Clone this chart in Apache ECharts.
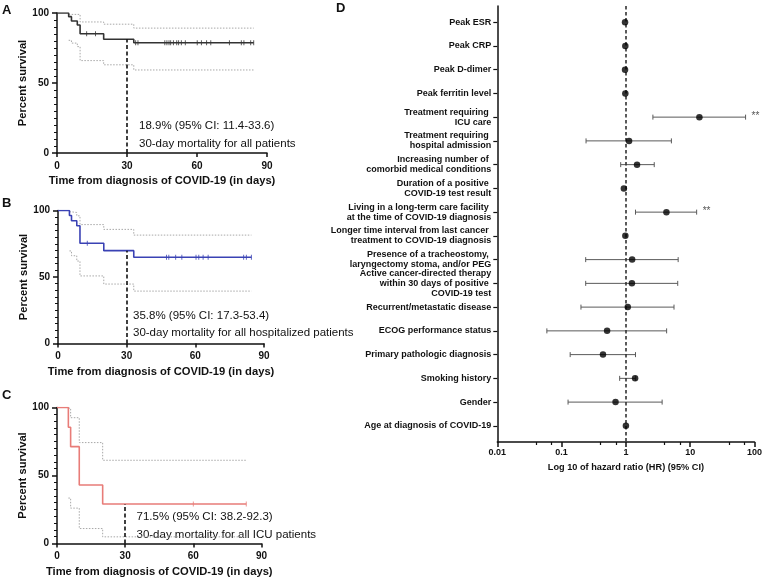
<!DOCTYPE html>
<html>
<head>
<meta charset="utf-8">
<script src="https://cdn.jsdelivr.net/npm/echarts@6/dist/echarts.min.js"></script>
<style>
html,body{margin:0;padding:0;background:#fff;}
#chart{width:765px;height:579px;}
</style>
</head>
<body>
<div id="chart"></div>
<script>
// ---------- Kaplan-Meier data (time in days, survival in %) ----------
const aTimes = [0, 5.0, 6.2, 8.7, 9.9, 20, 32.9, 84.3];
const aSurv  = [100, 97.4, 94.3, 91.4, 85.2, 81.2, 78.8, 78.8];
const aCiTimes = [5.0, 6.2, 8.7, 9.9, 20, 32.9, 84.3];
const aUpper = [99, 99, 99, 93.6, 92, 89.2, 89.2];
const aLower = [80.5, 78.5, 76, 66, 63, 59.3, 59.3];
const aCensor = [12.7, 16.5, 33.7, 34.7, 46.2, 47.1, 48.0, 48.7, 49.9, 51.3, 52.1, 53.3, 55.0, 60.1, 61.9, 64.1, 65.9, 73.9, 79.0, 80.1, 83.0, 84.3];

const bTimes = [0, 5.0, 5.9, 8.2, 9.6, 20, 33.1, 84.5];
const bSurv  = [100, 96.2, 92.3, 88.5, 75.4, 69.8, 64.8, 64.8];
const bCiTimes = [5.0, 5.9, 8.2, 9.6, 20, 33.1, 84.5];
const bUpper = [99, 98.5, 96, 89.4, 85.8, 81.5, 81.5];
const bLower = [69.6, 66, 62, 50.8, 44.7, 39.4, 39.4];
const bCensor = [12.8, 47.4, 48.4, 51.4, 54.1, 60.3, 61.5, 63.4, 65.6, 81.1, 82.3, 84.5];

const cTimes = [0, 5.0, 6.0, 9.8, 20.1, 83.3];
const cSurv  = [100, 85.5, 71.2, 43, 29, 29];
const cCiTimes = [5.0, 6.0, 9.8, 20.1, 83.3];
const cUpper = [99.5, 92.5, 74.2, 61.2, 61.2];
const cLower = [33.4, 26, 11, 4.9, 4.9];
const cCensor = [60, 83.3];

const kmXTicks = [0, 30, 60, 90];
const kmYTicks = [0, 50, 100];
const mortalityDay = 30;

const annA = ['18.9% (95% CI: 11.4-33.6)', '30-day mortality for all patients'];
const annB = ['35.8% (95% CI: 17.3-53.4)', '30-day mortality for all hospitalized patients'];
const annC = ['71.5% (95% CI: 38.2-92.3)', '30-day mortality for all ICU patients'];

// ---------- Forest plot data ----------
const factors = [
  'Peak ESR',
  'Peak CRP',
  'Peak D-dimer',
  'Peak ferritin level',
  'Treatment requiring \nICU care',
  'Treatment requiring \nhospital admission',
  'Increasing number of \ncomorbid medical conditions',
  'Duration of a positive \nCOVID-19 test result',
  'Living in a long-term care facility \nat the time of COVID-19 diagnosis',
  'Longer time interval from last cancer \ntreatment to COVID-19 diagnosis',
  'Presence of a tracheostomy, \nlaryngectomy stoma, and/or PEG',
  'Active cancer-directed therapy\nwithin 30 days of positive \nCOVID-19 test',
  'Recurrent/metastatic disease',
  'ECOG performance status',
  'Primary pathologic diagnosis',
  'Smoking history',
  'Gender',
  'Age at diagnosis of COVID-19'
];
const hr    = [0.97, 0.98, 0.97, 0.98, 13.9, 1.12, 1.49, 0.93, 4.27, 0.98, 1.25, 1.24, 1.07, 0.51, 0.44, 1.39, 0.69, 1.0];
const hrLow = [null, null, null, null, 2.63, 0.24, 0.83, null, 1.41, null, 0.237, 0.237, 0.20, 0.059, 0.136, 0.80, 0.126, null];
const hrHigh= [null, null, null, null, 72.7, 5.1, 2.76, null, 12.6, null, 6.5, 6.4, 5.6, 4.3, 1.41, 1.42, 3.66, null];
const sig   = ['', '', '', '', '**', '', '', '', '**', '', '', '', '', '', '', '', '', ''];
const hrTickLabels = ['0.01', '0.1', '1', '10', '100'];
const hrMinorTicks = [0.04, 0.07, 0.4, 0.7, 4, 7, 40, 70];

// ---------- helpers ----------
const FONT = 'Liberation Sans, Arial, sans-serif';
function stepValue(times, surv, t) {
  let v = surv[0];
  for (let i = 0; i < times.length; i++) { if (times[i] <= t) v = surv[i]; }
  return v;
}
function pairs(xs, ys) { return xs.map((x, i) => [x, ys[i]]); }

const kmGrids = [
  {left: 57, top: 13, width: 210, height: 140},
  {left: 58, top: 210.5, width: 206, height: 133},
  {left: 57, top: 407.5, width: 204.5, height: 136}
];
const kmPanels = [
  {t: aTimes, s: aSurv, ct: aCiTimes, up: aUpper, lo: aLower, cen: aCensor, color: '#333333'},
  {t: bTimes, s: bSurv, ct: bCiTimes, up: bUpper, lo: bLower, cen: bCensor, color: '#3a42b4'},
  {t: cTimes, s: cSurv, ct: cCiTimes, up: cUpper, lo: cLower, cen: cCensor, color: '#e87c78'}
];

const grids = [], xAxes = [], yAxes = [], series = [];
kmGrids.forEach((g, i) => {
  grids.push(Object.assign({containLabel: false}, g));
  xAxes.push({
    gridIndex: i, type: 'value', min: 0, max: 90, interval: 30,
    name: 'Time from diagnosis of COVID-19 (in days)', nameLocation: 'middle', nameGap: 22.5,
    nameTextStyle: {fontFamily: FONT, fontWeight: 'bold', fontSize: 11.2, color: '#111'},
    axisLine: {show: true, onZero: false, lineStyle: {color: '#111', width: 1.5}},
    axisTick: {show: true, length: 4, lineStyle: {color: '#111', width: 1.5}},
    axisLabel: {fontFamily: FONT, fontWeight: 'bold', fontSize: 10, color: '#111', margin: 8,
      formatter: v => kmXTicks.includes(v) ? String(v) : ''},
    splitLine: {show: false}
  });
  yAxes.push({
    gridIndex: i, type: 'value', min: 0, max: 100, interval: 50,
    name: 'Percent survival', nameLocation: 'middle', nameGap: 28,
    nameTextStyle: {fontFamily: FONT, fontWeight: 'bold', fontSize: 11.2, color: '#111'},
    axisLine: {show: true, onZero: false, lineStyle: {color: '#111', width: 1.5}},
    axisTick: {show: true, length: 5, lineStyle: {color: '#111', width: 1.5}},
    minorTick: {show: true, splitNumber: 10, length: 3, lineStyle: {color: '#111', width: 1}},
    axisLabel: {fontFamily: FONT, fontWeight: 'bold', fontSize: 10, color: '#111', margin: 8,
      formatter: v => kmYTicks.includes(v) ? String(v) : ''},
    splitLine: {show: false}
  });
  const p = kmPanels[i];
  const s30 = stepValue(p.t, p.s, mortalityDay);
  series.push({
    type: 'line', xAxisIndex: i, yAxisIndex: i, step: 'end', showSymbol: false, symbol: 'none',
    data: pairs(p.ct, p.up), lineStyle: {color: '#a8a8a8', width: 1, type: [1.5, 1.5]}, silent: true, z: 2
  });
  series.push({
    type: 'line', xAxisIndex: i, yAxisIndex: i, step: 'end', showSymbol: false, symbol: 'none',
    data: pairs(p.ct, p.lo), lineStyle: {color: '#a8a8a8', width: 1, type: [1.5, 1.5]}, silent: true, z: 2
  });
  series.push({
    type: 'line', xAxisIndex: i, yAxisIndex: i, step: 'end', showSymbol: false, symbol: 'none',
    data: pairs(p.t, p.s), lineStyle: {color: p.color, width: 1.6}, silent: true, z: 4,
    markLine: {
      silent: true, symbol: 'none', label: {show: false},
      lineStyle: {color: '#111', width: 1.6, type: [4, 2.5]},
      data: [[{coord: [mortalityDay, 0]}, {coord: [mortalityDay, s30]}]]
    }
  });
  series.push({
    type: 'scatter', xAxisIndex: i, yAxisIndex: i, symbol: 'rect', symbolSize: [1, 5],
    itemStyle: {color: p.color}, silent: true, z: 5,
    data: p.cen.map(t => [t, stepValue(p.t, p.s, t)])
  });
});

// forest grid
grids.push({left: 497.3, top: 6, width: 260, height: 436, containLabel: false});
xAxes.push({
  gridIndex: 3, type: 'log', logBase: 10, min: 0.01, max: 100,
  name: 'Log 10 of hazard ratio (HR) (95% CI)', nameLocation: 'middle', nameGap: 21,
  nameTextStyle: {fontFamily: FONT, fontWeight: 'bold', fontSize: 9.2, color: '#111'},
  axisLine: {show: true, onZero: false, lineStyle: {color: '#111', width: 1.5}},
  axisTick: {show: true, length: 5, lineStyle: {color: '#111', width: 1.5}},
  axisLabel: {fontFamily: FONT, fontWeight: 'bold', fontSize: 9, color: '#111', margin: 6,
    formatter: v => hrTickLabels[Math.round(Math.log10(v)) + 2] || ''},
  splitLine: {show: false}
});
xAxes.push({
  gridIndex: 3, type: 'log', logBase: 10, min: 0.01, max: 100, position: 'bottom',
  axisLine: {show: false, onZero: false},
  axisTick: {show: true, length: 3, customValues: hrMinorTicks, lineStyle: {color: '#111', width: 1.2}},
  axisLabel: {show: false},
  splitLine: {show: false}
});
const rowIdx = factors.map((f, i) => i);
yAxes.push({
  gridIndex: 3, type: 'value', min: -0.68, max: 17.68, inverse: true,
  axisLine: {show: true, onZero: false, lineStyle: {color: '#111', width: 1.5}},
  axisTick: {show: true, length: 4, customValues: rowIdx, lineStyle: {color: '#111', width: 1.2}},
  axisLabel: {show: true, customValues: rowIdx, fontFamily: FONT, fontWeight: 'bold', fontSize: 9,
    lineHeight: 10, color: '#111', margin: 6, align: 'right',
    formatter: v => factors[Math.round(v)] || ''},
  splitLine: {show: false}
});

const ciData = [];
factors.forEach((f, i) => { if (hrLow[i] != null) ciData.push([hrLow[i], hrHigh[i], i, sig[i]]); });

series.push({
  type: 'custom', xAxisIndex: 3, yAxisIndex: 3, silent: true, z: 3,
  data: ciData,
  encode: {x: [0, 1], y: 2},
  renderItem: (params, api) => {
    const row = api.value(2);
    const p1 = api.coord([api.value(0), row]);
    const p2 = api.coord([api.value(1), row]);
    const style = {stroke: '#5a5a5a', lineWidth: 1};
    const children = [
      {type: 'line', shape: {x1: p1[0], y1: p1[1], x2: p2[0], y2: p2[1]}, style},
      {type: 'line', shape: {x1: p1[0], y1: p1[1] - 2.5, x2: p1[0], y2: p1[1] + 2.5}, style},
      {type: 'line', shape: {x1: p2[0], y1: p2[1] - 2.5, x2: p2[0], y2: p2[1] + 2.5}, style}
    ];
    const s = ciData[params.dataIndex][3];
    if (s) {
      children.push({type: 'text', x: p2[0] + 6, y: p2[1] - 1,
        style: {text: s, fontFamily: FONT, fontSize: 10, fill: '#555', verticalAlign: 'middle', align: 'left'}});
    }
    return {type: 'group', children};
  }
});
series.push({
  type: 'scatter', xAxisIndex: 3, yAxisIndex: 3, symbol: 'circle', symbolSize: 6.5,
  itemStyle: {color: '#000'}, silent: true, z: 6,
  data: hr.map((v, i) => [v, i]),
  markLine: {
    silent: true, symbol: 'none', label: {show: false},
    lineStyle: {color: '#333', width: 1.6, type: [3.5, 2.5]},
    data: [{xAxis: 1}]
  }
});

// annotations & panel letters (text only)
const textStyle = (t, x, y, size, weight) => ({
  type: 'text', x, y, silent: true,
  style: {text: t, fontFamily: FONT, fontSize: size, fontWeight: weight || 'normal', fill: '#111', verticalAlign: 'middle'}
});
const graphic = [
  textStyle('A', 2, 10, 13, 'bold'),
  textStyle('B', 2, 203, 13, 'bold'),
  textStyle('C', 2, 395, 13, 'bold'),
  textStyle('D', 336, 8, 13, 'bold'),
  textStyle(annA[0], 139, 126, 11.5), textStyle(annA[1], 139, 144, 11.5),
  textStyle(annB[0], 133, 316, 11.5), textStyle(annB[1], 133, 333, 11.5),
  textStyle(annC[0], 136.5, 517, 11.5), textStyle(annC[1], 136.5, 534.5, 11.5)
];

const chart = echarts.init(document.getElementById('chart'), null, {renderer: 'canvas'});
chart.setOption({
  animation: false,
  backgroundColor: '#fff',
  grid: grids, xAxis: xAxes, yAxis: yAxes, series, graphic
});
</script>
</body>
</html>
